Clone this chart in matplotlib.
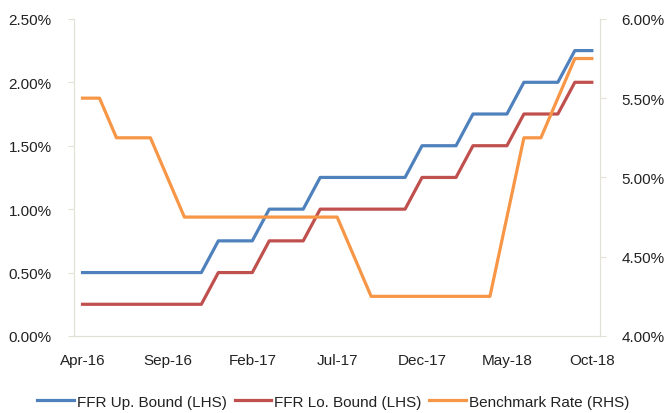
import numpy as np
import matplotlib.pyplot as plt
from matplotlib.ticker import FuncFormatter

plt.rcParams['font.family'] = ['Liberation Sans', 'DejaVu Sans']

months = ['Apr-16', 'May-16', 'Jun-16', 'Jul-16', 'Aug-16', 'Sep-16', 'Oct-16', 'Nov-16',
          'Dec-16', 'Jan-17', 'Feb-17', 'Mar-17', 'Apr-17', 'May-17', 'Jun-17', 'Jul-17',
          'Aug-17', 'Sep-17', 'Oct-17', 'Nov-17', 'Dec-17', 'Jan-18', 'Feb-18', 'Mar-18',
          'Apr-18', 'May-18', 'Jun-18', 'Jul-18', 'Aug-18', 'Sep-18', 'Oct-18']

ffr_up = [0.50, 0.50, 0.50, 0.50, 0.50, 0.50, 0.50, 0.50,
          0.75, 0.75, 0.75, 1.00, 1.00, 1.00, 1.25, 1.25,
          1.25, 1.25, 1.25, 1.25, 1.50, 1.50, 1.50, 1.75,
          1.75, 1.75, 2.00, 2.00, 2.00, 2.25, 2.25]

ffr_lo = [0.25, 0.25, 0.25, 0.25, 0.25, 0.25, 0.25, 0.25,
          0.50, 0.50, 0.50, 0.75, 0.75, 0.75, 1.00, 1.00,
          1.00, 1.00, 1.00, 1.00, 1.25, 1.25, 1.25, 1.50,
          1.50, 1.50, 1.75, 1.75, 1.75, 2.00, 2.00]

benchmark = [5.50, 5.50, 5.25, 5.25, 5.25, 5.00, 4.75, 4.75,
             4.75, 4.75, 4.75, 4.75, 4.75, 4.75, 4.75, 4.75,
             4.50, 4.25, 4.25, 4.25, 4.25, 4.25, 4.25, 4.25,
             4.25, 4.75, 5.25, 5.25, 5.50, 5.75, 5.75]

tick_labels = ['Apr-16', 'Sep-16', 'Feb-17', 'Jul-17', 'Dec-17', 'May-18', 'Oct-18']

blue = '#4F81BD'
red = '#C0504D'
orange = '#F79646'
axis_col = '#E3E0D6'
fs = 11

x = np.arange(len(months))

fig = plt.figure(figsize=(6.67, 4.14), dpi=100)
ax = fig.add_axes([0.111, 0.186, 0.789, 0.766])
ax2 = ax.twinx()

l1, = ax.plot(x, ffr_up, color=blue, lw=2.3, label='FFR Up. Bound (LHS)')
l2, = ax.plot(x, ffr_lo, color=red, lw=2.3, label='FFR Lo. Bound (LHS)')
l3, = ax2.plot(x, benchmark, color=orange, lw=2.3, label='Benchmark Rate (RHS)')

ax.set_xlim(-0.5, len(months) - 0.5)
ax.set_ylim(0, 2.5)
ax2.set_ylim(4.0, 6.0)
ax.set_yticks(np.arange(0, 2.51, 0.5))
ax2.set_yticks(np.arange(4.0, 6.01, 0.5))
pct = FuncFormatter(lambda v, p: f'{v:.2f}%')
ax.yaxis.set_major_formatter(pct)
ax2.yaxis.set_major_formatter(pct)

ticks = [months.index(m) for m in tick_labels]
ax.set_xticks(ticks)
ax.set_xticklabels(tick_labels)

for a in (ax, ax2):
    a.spines['top'].set_visible(False)
    for s in ('left', 'right', 'bottom'):
        a.spines[s].set_color(axis_col)
    a.tick_params(axis='both', labelsize=fs, colors='#222222', length=4)
ax.tick_params(axis='y', color=axis_col, pad=12)
ax2.tick_params(axis='y', color=axis_col, pad=11)
ax.tick_params(axis='x', length=0, pad=12)

fig.legend(handles=[l1, l2, l3], loc='center', bbox_to_anchor=(0.5, 0.027), ncol=3,
           frameon=False, fontsize=fs, handlelength=2.4, handletextpad=0.2,
           columnspacing=0.5, labelcolor='#222222')

fig.savefig('out.png', dpi=100)
